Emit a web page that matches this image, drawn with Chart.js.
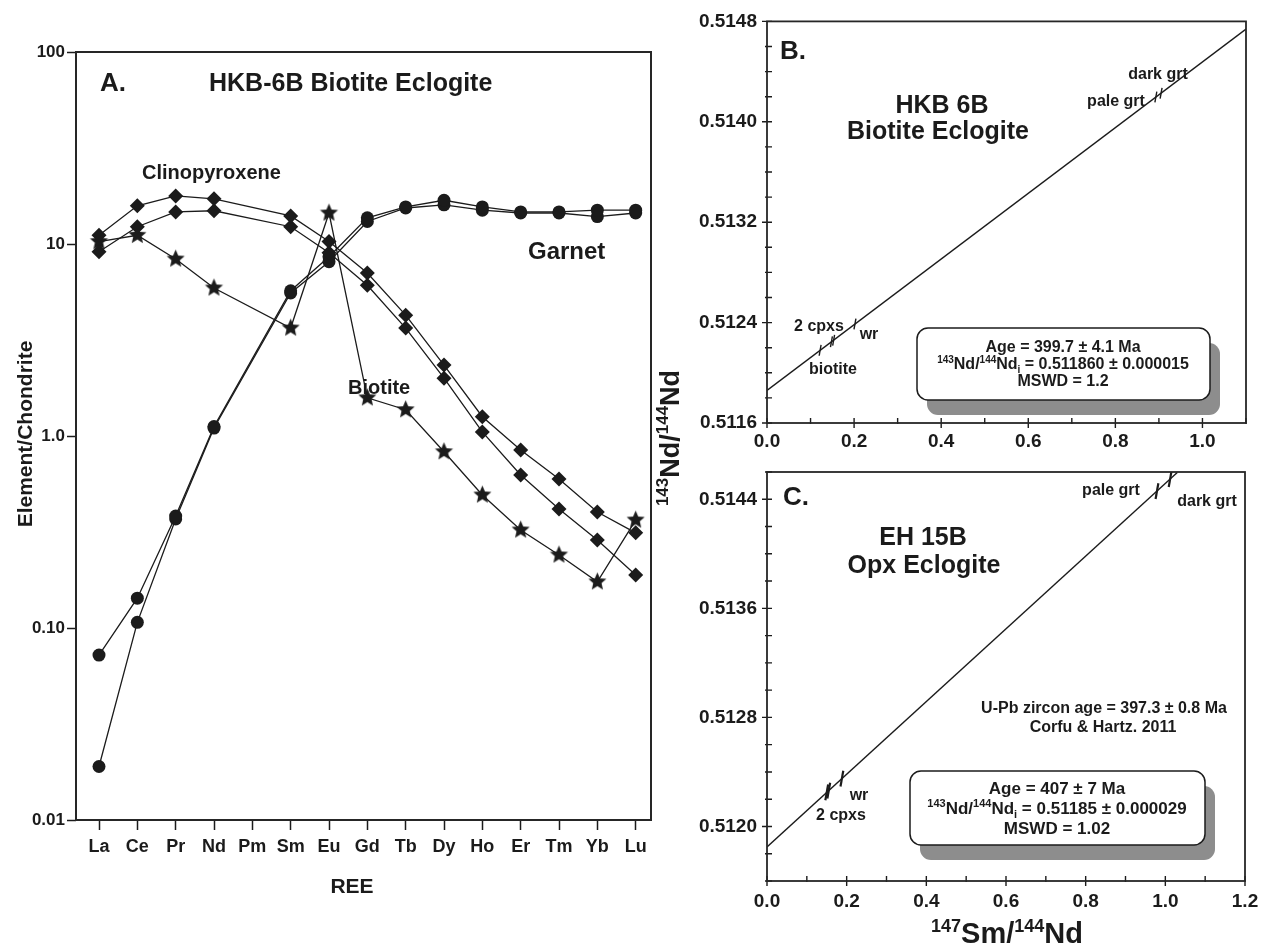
<!DOCTYPE html>
<html lang="en">
<head>
<meta charset="UTF-8">
<title>REE patterns and Sm-Nd isochrons</title>
<script src="https://cdn.jsdelivr.net/npm/chart.js"></script>
<style>
  body { margin: 0; background: #fff; }
  canvas { position: absolute; left: 0; top: 0; }
</style>
</head>
<body>
<canvas id="graficoA" width="1272" height="944"></canvas>
<canvas id="graficoB" width="1272" height="944"></canvas>
<canvas id="graficoC" width="1272" height="944"></canvas>
<script>
const FAMILIA = '"Liberation Sans", Arial, sans-serif';
const TINTA = '#1b1b1b';

// A. chondrite normalised REE, HKB-6B
const elementos = ['La', 'Ce', 'Pr', 'Nd', 'Pm', 'Sm', 'Eu', 'Gd', 'Tb', 'Dy', 'Ho', 'Er', 'Tm', 'Yb', 'Lu'];
const cpxSuperior = [11.1, 15.8, 17.8, 17.2, null, 14.0, 10.3, 7.06, 4.26, 2.34, 1.26, 0.845, 0.597, 0.402, 0.313];
const cpxInferior = [9.12, 12.3, 14.7, 14.9, null, 12.3, 9.0, 6.1, 3.65, 2.0, 1.05, 0.627, 0.417, 0.287, 0.189];
const granada1 = [0.0723, 0.143, 0.383, 1.12, null, 5.71, 8.59, 13.7, 15.6, 16.9, 15.6, 14.7, 14.7, 15.0, 15.0];
const granada2 = [0.019, 0.107, 0.37, 1.10, null, 5.56, 8.09, 13.1, 15.4, 16.0, 15.0, 14.5, 14.5, 13.9, 14.5];
const biotita = [10.3, 11.1, 8.35, 5.9, null, 3.65, 14.5, 1.58, 1.37, 0.828, 0.493, 0.324, 0.240, 0.174, 0.365];
const ticksYA = [0.01, 0.1, 1, 10, 100];
const rotulosYA = ['0.01', '0.10', '1.0', '10', '100'];

// B. Sm-Nd isochron, HKB 6B
const bSmNd = [0.122, 0.148, 0.153, 0.202, 0.893, 0.905];
const bNdNd = [0.512179, 0.512247, 0.512260, 0.512389, 0.514197, 0.514228];
const bIsocronaX = [0, 1.1];
const bIsocronaY = [0.511860, 0.514739];
const ticksXB = [0, 0.2, 0.4, 0.6, 0.8, 1.0];
const ticksYB = [0.5116, 0.5124, 0.5132, 0.5140, 0.5148];

// C. Sm-Nd isochron, EH 15B
const cSmNd = [0.150, 0.155, 0.188, 0.979, 1.012];
const cNdNd = [0.512250, 0.512263, 0.512351, 0.514460, 0.514548];
const cIsocronaX = [0, 1.03];
const cIsocronaY = [0.51185, 0.514596];
const ticksXC = [0, 0.2, 0.4, 0.6, 0.8, 1.0, 1.2];
const ticksYC = [0.5120, 0.5128, 0.5136, 0.5144];

function fonte(tam) {
    return 'bold ' + tam + 'px ' + FAMILIA;
}

// writes a line of text; parts can be plain strings or [text, 'sup' | 'sub']
function texto(ctx, partes, x, y, tam, alinhar) {
    const pedacos = partes.map(p => typeof p === 'string' ? [p, ''] : p);
    const tamanho = tipo => tipo ? Math.round(tam * 0.62) : tam;
    let largura = 0;
    pedacos.forEach(([t, tipo]) => {
        ctx.font = fonte(tamanho(tipo));
        largura += ctx.measureText(t).width;
    });
    let cx = alinhar === 'center' ? x - largura / 2 : (alinhar === 'right' ? x - largura : x);
    const base = y + tam * 0.36;
    ctx.textAlign = 'left';
    ctx.textBaseline = 'alphabetic';
    ctx.fillStyle = TINTA;
    pedacos.forEach(([t, tipo]) => {
        ctx.font = fonte(tamanho(tipo));
        const dy = tipo === 'sup' ? -tam * 0.4 : (tipo === 'sub' ? tam * 0.22 : 0);
        ctx.fillText(t, cx, base + dy);
        cx += ctx.measureText(t).width;
    });
}

function textoVertical(ctx, partes, x, y, tam) {
    ctx.save();
    ctx.translate(x, y);
    ctx.rotate(-Math.PI / 2);
    texto(ctx, partes, 0, 0, tam, 'center');
    ctx.restore();
}

function moldura(chart, espessura) {
    const { ctx, chartArea: a } = chart;
    ctx.save();
    ctx.strokeStyle = '#262626';
    ctx.lineWidth = espessura;
    ctx.strokeRect(a.left, a.top, a.right - a.left, a.bottom - a.top);
    ctx.restore();
}

function caixa(ctx, x0, y0, x1, y1) {
    ctx.save();
    ctx.fillStyle = '#8d8d8d';
    ctx.beginPath();
    ctx.roundRect(x0 + 10, y0 + 15, x1 - x0, y1 - y0, 11);
    ctx.fill();
    ctx.fillStyle = '#fff';
    ctx.strokeStyle = TINTA;
    ctx.lineWidth = 1.5;
    ctx.beginPath();
    ctx.roundRect(x0, y0, x1 - x0, y1 - y0, 11);
    ctx.fill();
    ctx.stroke();
    ctx.restore();
}

function passos(min, max, passo) {
    const r = [];
    for (let v = min; v <= max + passo / 2; v += passo) r.push(+v.toFixed(6));
    return r;
}

// ticks that cross the axis line: majors on both sides, minors mostly inside
function tracos(chart, maioresX, menoresX, maioresY, menoresY) {
    const { ctx, chartArea: a, scales } = chart;
    ctx.save();
    ctx.strokeStyle = TINTA;
    ctx.lineWidth = 1.4;
    ctx.beginPath();
    menoresX.forEach(v => {
        const px = scales.x.getPixelForValue(v);
        ctx.moveTo(px, a.bottom - 5); ctx.lineTo(px, a.bottom + 1);
    });
    maioresX.forEach(v => {
        const px = scales.x.getPixelForValue(v);
        ctx.moveTo(px, a.bottom - 5); ctx.lineTo(px, a.bottom + 5);
    });
    menoresY.forEach(v => {
        const py = scales.y.getPixelForValue(v);
        ctx.moveTo(a.left - 2, py); ctx.lineTo(a.left + 5, py);
    });
    maioresY.forEach(v => {
        const py = scales.y.getPixelForValue(v);
        ctx.moveTo(a.left - 5, py); ctx.lineTo(a.left + 5, py);
    });
    ctx.stroke();
    ctx.restore();
}

function estrela(raio) {
    const c = document.createElement('canvas');
    const lado = Math.ceil(raio * 2 + 2);
    c.width = c.height = lado;
    const g = c.getContext('2d');
    g.fillStyle = TINTA;
    g.beginPath();
    for (let i = 0; i < 10; i++) {
        const r = i % 2 ? raio * 0.46 : raio;
        const ang = -Math.PI / 2 + i * Math.PI / 5;
        g.lineTo(lado / 2 + r * Math.cos(ang), lado / 2 + r * Math.sin(ang));
    }
    g.closePath();
    g.fill();
    return c;
}

function serie(valores, estilo, raio) {
    return {
        data: valores.map((v, i) => ({ x: i, y: v })).filter(p => p.y !== null),
        showLine: true,
        borderColor: TINTA,
        borderWidth: 1.3,
        pointStyle: estilo,
        pointRadius: raio,
        pointBackgroundColor: TINTA,
        pointBorderColor: TINTA,
        pointBorderWidth: 0
    };
}

const fonteTicksA = { family: FAMILIA, weight: 'bold' };
const imagemEstrela = estrela(9.5);

new Chart(document.getElementById('graficoA'), {
    type: 'scatter',
    data: {
        datasets: [
            serie(cpxSuperior, 'rectRot', 7.5),
            serie(cpxInferior, 'rectRot', 7.5),
            serie(granada1, 'circle', 6.5),
            serie(granada2, 'circle', 6.5),
            serie(biotita, imagemEstrela, 9)
        ]
    },
    options: {
        responsive: false,
        animation: false,
        events: [],
        layout: { padding: { left: 0, top: 52, right: 621, bottom: 64 } },
        plugins: { legend: { display: false }, tooltip: { enabled: false } },
        scales: {
            x: {
                type: 'linear', min: -0.6, max: 14.4,
                afterBuildTicks: s => { s.ticks = elementos.map((_, i) => ({ value: i })); },
                afterFit: s => { s.height = 60; },
                ticks: {
                    callback: (v, i) => elementos[i],
                    autoSkip: false, maxRotation: 0, padding: 6,
                    color: TINTA, font: { ...fonteTicksA, size: 18 }
                },
                grid: { drawOnChartArea: false, tickLength: 10, tickColor: TINTA, tickWidth: 1.5 },
                border: { display: false }
            },
            y: {
                type: 'logarithmic', min: 0.01, max: 100,
                afterBuildTicks: s => { s.ticks = ticksYA.map(v => ({ value: v })); },
                afterFit: s => { s.width = 76; },
                ticks: {
                    callback: (v, i) => rotulosYA[i],
                    autoSkip: false, padding: 2,
                    color: TINTA, font: { ...fonteTicksA, size: 17 }
                },
                grid: { drawOnChartArea: false, tickLength: 9, tickColor: TINTA, tickWidth: 1.5 },
                border: { display: false }
            }
        }
    },
    plugins: [{
        id: 'textosA',
        afterDraw(chart) {
            const ctx = chart.ctx;
            moldura(chart, 2);
            texto(ctx, ['A.'], 100, 82, 26, 'left');
            texto(ctx, ['HKB-6B Biotite Eclogite'], 209, 82, 25, 'left');
            texto(ctx, ['Clinopyroxene'], 142, 172, 20, 'left');
            texto(ctx, ['Garnet'], 528, 250, 24, 'left');
            texto(ctx, ['Biotite'], 348, 387, 20, 'left');
            textoVertical(ctx, ['Element/Chondrite'], 24, 434, 21);
            texto(ctx, ['REE'], 352, 885, 21, 'center');
        }
    }]
});

function eixosIsocrona(minX, maxX, ticksX, minY, maxY, ticksY, paddingX) {
    const fonteTicks = { family: FAMILIA, weight: 'bold', size: 19 };
    return {
        x: {
            type: 'linear', min: minX, max: maxX,
            afterBuildTicks: s => { s.ticks = ticksX.map(v => ({ value: v })); },
            afterFit: s => { s.height = 40; },
            ticks: { callback: v => v.toFixed(1), autoSkip: false, maxRotation: 0, padding: paddingX, color: TINTA, font: fonteTicks },
            grid: { display: false, drawTicks: false },
            border: { display: false }
        },
        y: {
            type: 'linear', min: minY, max: maxY,
            afterBuildTicks: s => { s.ticks = ticksY.map(v => ({ value: v })); },
            afterFit: s => { s.width = 100; },
            ticks: { callback: v => v.toFixed(4), autoSkip: false, padding: 10, color: TINTA, font: fonteTicks },
            grid: { display: false, drawTicks: false },
            border: { display: false }
        }
    };
}

function pontosIsocrona(xs, ys, raio, espessura) {
    return {
        data: xs.map((x, i) => ({ x: x, y: ys[i] })),
        showLine: false,
        pointStyle: 'line',
        rotation: 100,
        pointRadius: raio,
        pointBorderColor: TINTA,
        pointBorderWidth: espessura
    };
}

function retaIsocrona(xs, ys) {
    return {
        data: xs.map((x, i) => ({ x: x, y: ys[i] })),
        showLine: true,
        borderColor: TINTA,
        borderWidth: 1.4,
        pointRadius: 0
    };
}

new Chart(document.getElementById('graficoB'), {
    type: 'scatter',
    data: {
        datasets: [
            pontosIsocrona(bSmNd, bNdNd, 5.5, 1.4),
            retaIsocrona(bIsocronaX, bIsocronaY)
        ]
    },
    options: {
        responsive: false,
        animation: false,
        events: [],
        layout: { padding: { left: 667, top: 17, right: 26, bottom: 481 } },
        plugins: { legend: { display: false }, tooltip: { enabled: false } },
        scales: eixosIsocrona(0, 1.1, ticksXB, 0.5116, 0.5148, ticksYB, 7)
    },
    plugins: [{
        id: 'textosB',
        afterDraw(chart) {
            const ctx = chart.ctx;
            tracos(chart, ticksXB, passos(0.1, 1.1, 0.2), ticksYB, passos(0.5118, 0.5148, 0.0002).filter(v => !ticksYB.includes(v)));
            moldura(chart, 1.8);
            texto(ctx, ['B.'], 780, 50, 26, 'left');
            texto(ctx, ['HKB 6B'], 942, 104, 25, 'center');
            texto(ctx, ['Biotite Eclogite'], 938, 130, 25, 'center');
            texto(ctx, ['dark grt'], 1158, 73, 16, 'center');
            texto(ctx, ['pale grt'], 1116, 100, 16, 'center');
            texto(ctx, ['2 cpxs'], 819, 325, 16, 'center');
            texto(ctx, ['wr'], 869, 333, 16, 'center');
            texto(ctx, ['biotite'], 833, 368, 16, 'center');
            caixa(ctx, 917, 328, 1210, 400);
            texto(ctx, ['Age = 399.7 ± 4.1 Ma'], 1063, 346, 16, 'center');
            texto(ctx, [['143', 'sup'], 'Nd/', ['144', 'sup'], 'Nd', ['i', 'sub'], ' = 0.511860 ± 0.000015'], 1063, 363.5, 16, 'center');
            texto(ctx, ['MSWD = 1.2'], 1063, 380, 16, 'center');
            textoVertical(ctx, [['143', 'sup'], 'Nd/', ['144', 'sup'], 'Nd'], 669, 438, 27);
        }
    }]
});

new Chart(document.getElementById('graficoC'), {
    type: 'scatter',
    data: {
        datasets: [
            pontosIsocrona(cSmNd, cNdNd, 8, 2.2),
            retaIsocrona(cIsocronaX, cIsocronaY)
        ]
    },
    options: {
        responsive: false,
        animation: false,
        events: [],
        layout: { padding: { left: 667, top: 472, right: 27, bottom: 23 } },
        plugins: { legend: { display: false }, tooltip: { enabled: false } },
        scales: eixosIsocrona(0, 1.2, ticksXC, 0.5116, 0.5146, ticksYC, 9)
    },
    plugins: [{
        id: 'textosC',
        afterDraw(chart) {
            const ctx = chart.ctx;
            tracos(chart, ticksXC, passos(0.1, 1.1, 0.2), ticksYC, passos(0.5116, 0.5146, 0.0002).filter(v => !ticksYC.includes(v)));
            moldura(chart, 1.8);
            texto(ctx, ['C.'], 783, 496, 26, 'left');
            texto(ctx, ['EH 15B'], 923, 536, 25, 'center');
            texto(ctx, ['Opx Eclogite'], 924, 564, 25, 'center');
            texto(ctx, ['pale grt'], 1111, 489, 16, 'center');
            texto(ctx, ['dark grt'], 1207, 500, 16, 'center');
            texto(ctx, ['U-Pb zircon age = 397.3 ± 0.8 Ma'], 1104, 707, 16, 'center');
            texto(ctx, ['Corfu & Hartz. 2011'], 1103, 726, 16, 'center');
            texto(ctx, ['wr'], 859, 794, 16, 'center');
            texto(ctx, ['2 cpxs'], 841, 814, 16, 'center');
            caixa(ctx, 910, 771, 1205, 845);
            texto(ctx, ['Age = 407 ± 7 Ma'], 1057, 788, 17, 'center');
            texto(ctx, [['143', 'sup'], 'Nd/', ['144', 'sup'], 'Nd', ['i', 'sub'], ' = 0.51185 ± 0.000029'], 1057, 808, 17, 'center');
            texto(ctx, ['MSWD = 1.02'], 1057, 828, 17, 'center');
            texto(ctx, [['147', 'sup'], 'Sm/', ['144', 'sup'], 'Nd'], 1007, 933, 29, 'center');
        }
    }]
});
</script>
</body>
</html>
